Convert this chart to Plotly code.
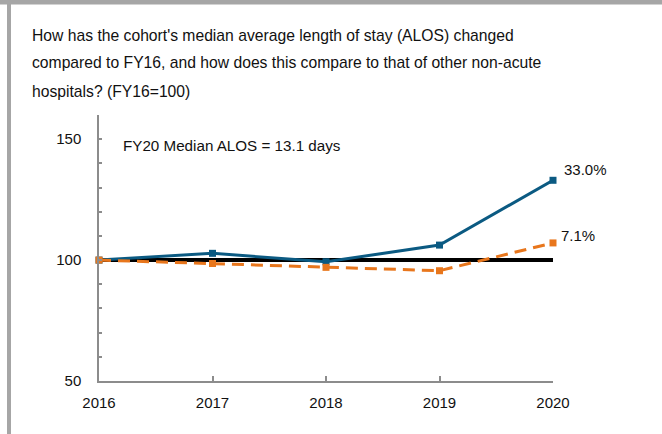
import plotly.graph_objects as go

years = [2016, 2017, 2018, 2019, 2020]
cohort = [100, 102.8, 99.3, 106.2, 133.0]
others = [100, 98.6, 97.0, 95.6, 107.1]
baseline = [100, 100, 100, 100, 100]
end_labels = ["33.0%", "7.1%"]
y_tickvals = [50, 60, 70, 80, 90, 100, 110, 120, 130, 140, 150, 160]
y_ticktext = ["50", "", "", "", "", "100", "", "", "", "", "150", ""]
x_tickvals = years
x_ticktext = ["2016", "2017", "2018", "2019", "2020"]
title_lines = [
    "How has the cohort's median average length of stay (ALOS) changed",
    "compared to FY16, and how does this compare to that of other non-acute",
    "hospitals? (FY16=100)",
]
note = "FY20 Median ALOS = 13.1 days"

FONT = "Liberation Sans, Arial, sans-serif"
BLUE = "#0B5A82"
ORANGE = "#E8761C"

W, H = 662, 434
L, R, T, B = 99, 553, 115, 381


def px(x):
    return (x - L) / (R - L)


def py(y):
    return (B - y) / (B - T)


fig = go.Figure()
fig.add_trace(go.Scatter(x=years, y=baseline, mode="lines",
                         line=dict(color="black", width=4), hoverinfo="skip"))
fig.add_trace(go.Scatter(x=years, y=cohort, mode="lines+markers",
                         line=dict(color=BLUE, width=3),
                         marker=dict(symbol="square", size=7, color=BLUE)))
fig.add_trace(go.Scatter(x=years, y=others, mode="lines+markers",
                         line=dict(color=ORANGE, width=3, dash="12px,7px"),
                         marker=dict(symbol="square", size=7, color=ORANGE)))

anns = []
for i, t in enumerate(title_lines):
    anns.append(dict(text=t, xref="paper", yref="paper", x=px(30), y=py([35, 63, 91][i]),
                     xanchor="left", yanchor="middle", showarrow=False,
                     font=dict(family=FONT, size=15.7, color="#111111")))
anns.append(dict(text=note, xref="paper", yref="paper", x=px(121), y=py(145),
                 xanchor="left", yanchor="middle", showarrow=False,
                 font=dict(family=FONT, size=15.2, color="#111111")))
anns.append(dict(text=end_labels[0], x=years[-1], y=cohort[-1], xanchor="left", yanchor="middle",
                 xshift=9, yshift=11, showarrow=False,
                 font=dict(family=FONT, size=15, color="#111111")))
anns.append(dict(text=end_labels[1], x=years[-1], y=others[-1], xanchor="left", yanchor="middle",
                 xshift=6, yshift=7, showarrow=False,
                 font=dict(family=FONT, size=15, color="#111111")))

shapes = [
    dict(type="rect", xref="paper", yref="paper", x0=px(0), x1=px(W), y0=py(0), y1=py(4.5),
         fillcolor="#a6a6a6", line=dict(width=0), layer="above"),
    dict(type="rect", xref="paper", yref="paper", x0=px(7), x1=px(11), y0=py(0), y1=py(H),
         fillcolor="#a6a6a6", line=dict(width=0), layer="above"),
]

fig.update_layout(
    width=W, height=H,
    margin=dict(l=L, r=W - R, t=T, b=H - B, pad=0),
    paper_bgcolor="white", plot_bgcolor="white",
    showlegend=False,
    annotations=anns, shapes=shapes,
    font=dict(family=FONT, size=14, color="#111111"),
    xaxis=dict(range=[2016, 2020], tickvals=x_tickvals, ticktext=x_ticktext,
               showgrid=False, zeroline=False, showline=True, linecolor="#8c8c8c", linewidth=1.5,
               ticks="inside", ticklen=5, tickcolor="#8c8c8c", tickwidth=1.5,
               ticklabelstandoff=7, tickfont=dict(family=FONT, size=15)),
    yaxis=dict(range=[50, 160], tickvals=y_tickvals, ticktext=y_ticktext,
               showgrid=False, zeroline=False, showline=True, linecolor="#8c8c8c", linewidth=1.5,
               ticks="inside", ticklen=3, tickcolor="#8c8c8c", tickwidth=1.5,
               ticklabelstandoff=13, tickfont=dict(family=FONT, size=15)),
)
fig.update_traces(cliponaxis=False)

fig.write_html("out.html", config={"displayModeBar": False},
               post_script="document.body.style.margin='0';document.body.style.padding='0';")
